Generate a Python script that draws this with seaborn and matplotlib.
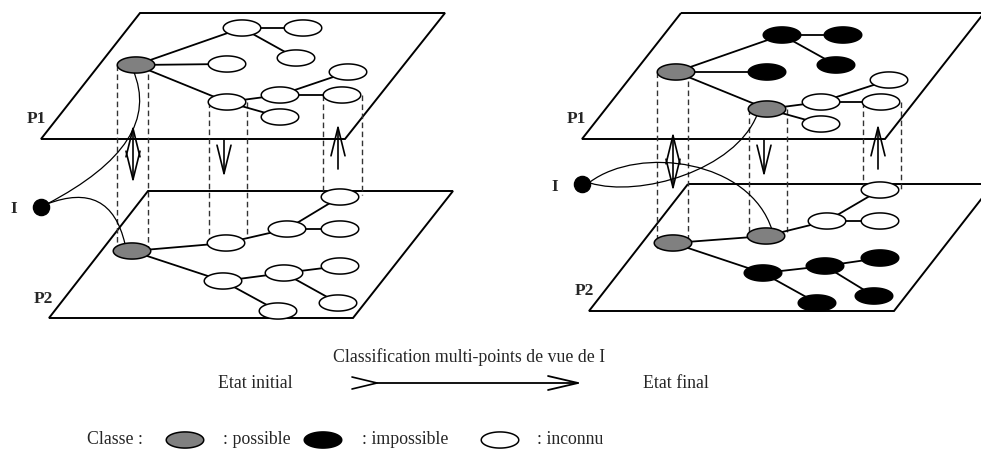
import numpy as np
import pandas as pd
import matplotlib
matplotlib.use("Agg")
import matplotlib.pyplot as plt
from matplotlib.path import Path
from matplotlib.patches import PathPatch, Polygon
import seaborn as sns

sns.set_theme(style="white")
plt.rcParams["font.family"] = ["Liberation Serif", "DejaVu Serif"]

# Planes (corner points in pixels, y pointing down)
left_p1_plane = [(140, 13), (445, 13), (345, 139), (41, 139)]
left_p2_plane = [(148, 191), (453, 191), (353, 318), (49, 318)]
right_p1_plane = [(681, 13), (984, 13), (885, 139), (582, 139)]
right_p2_plane = [(688, 184), (993, 184), (894, 311), (589, 311)]

# Graph nodes: same tree shape on each plane
p1_edges = [(0, 1), (0, 4), (0, 5), (1, 2), (1, 3), (5, 6), (5, 9), (6, 7), (6, 8)]
p2_edges = [(0, 1), (0, 5), (1, 2), (2, 3), (2, 4), (5, 6), (5, 9), (6, 7), (6, 8)]

left_p1_x = [136, 242, 303, 296, 227, 227, 280, 348, 342, 280]
left_p1_y = [65, 28, 28, 58, 64, 102, 95, 72, 95, 117]
left_p1_cls = ["possible"] + ["inconnu"] * 9

left_p2_x = [132, 226, 287, 340, 340, 223, 284, 340, 338, 278]
left_p2_y = [251, 243, 229, 197, 229, 281, 273, 266, 303, 311]
left_p2_cls = ["possible"] + ["inconnu"] * 9

right_p1_x = [676, 782, 843, 836, 767, 767, 821, 889, 881, 821]
right_p1_y = [72, 35, 35, 65, 72, 109, 102, 80, 102, 124]
right_p1_cls = ["possible"] + ["impossible"] * 4 + ["possible"] + ["inconnu"] * 4

right_p2_x = [673, 766, 827, 880, 880, 763, 825, 880, 874, 817]
right_p2_y = [243, 236, 221, 190, 221, 273, 266, 258, 296, 303]
right_p2_cls = ["possible", "possible"] + ["inconnu"] * 3 + ["impossible"] * 5

# Dashed "cylinders" between the planes: (x_left, x_right, y_top, y_bottom)
cylinders = [(117, 148, 65, 248), (209, 247, 102, 238), (323, 362, 95, 195),
             (657, 688, 72, 248), (749, 787, 109, 232), (863, 901, 102, 190)]

# Vertical arrows: (x, y_start, y_end, style)
arrows = [(133, 125, 183, "<->"), (224, 140, 177, "->"), (338, 169, 124, "->"),
          (673, 132, 191, "<->"), (764, 140, 177, "->"), (878, 169, 124, "->")]

# Point I and its links (cubic curves)
i_points_x = [41, 582]
i_points_y = [207, 184]
i_curves = [
    [(47, 204), (125, 163), (154, 119), (133, 70)],
    [(47, 204), (89, 188), (115, 201), (125, 244)],
    [(590, 183), (640, 198), (735, 170), (757, 115)],
    [(590, 182), (640, 145), (750, 160), (772, 230)],
]

plane_labels = ["P1", "P2", "I", "P1", "P2", "I"]
plane_label_x = [36, 43, 14, 576, 584, 555]
plane_label_y = [119, 299, 209, 119, 291, 187]

# Legend
legend_cls = ["possible", "impossible", "inconnu"]
legend_x = [185, 323, 500]
legend_text = [": possible", ": impossible", ": inconnu"]
legend_text_x = [223, 362, 537]

class_colors = {"possible": "#808080", "impossible": "#000000", "inconnu": "#ffffff"}

fig = plt.figure(figsize=(9.81, 4.49), dpi=100)
ax = fig.add_axes([0, 0, 1, 1])

for corners in [left_p1_plane, left_p2_plane, right_p1_plane, right_p2_plane]:
    ax.add_patch(Polygon(corners, closed=True, fill=False, edgecolor="black", lw=1.4, zorder=1))

for xl, xr, yt, yb in cylinders:
    for xc in (xl, xr):
        ax.plot([xc, xc], [yt, yb], color="#333333", lw=1.0, linestyle=(0, (4, 2.5)), zorder=1)

graphs = [(left_p1_x, left_p1_y, left_p1_cls, p1_edges),
          (left_p2_x, left_p2_y, left_p2_cls, p2_edges),
          (right_p1_x, right_p1_y, right_p1_cls, p1_edges),
          (right_p2_x, right_p2_y, right_p2_cls, p2_edges)]

frames = []
for xs, ys, cls, edges in graphs:
    for a, b in edges:
        ax.plot([xs[a], xs[b]], [ys[a], ys[b]], color="black", lw=1.3, zorder=2)
    frames.append(pd.DataFrame({"x": xs, "y": ys, "classe": cls}))
nodes = pd.concat(frames, ignore_index=True)

theta = np.linspace(0, 2 * np.pi, 80)
ellipse = Path(np.column_stack([np.cos(theta), 0.43 * np.sin(theta)]))

sns.scatterplot(data=nodes, x="x", y="y", hue="classe", palette=class_colors,
                marker=ellipse, s=730, edgecolor="black", linewidth=1.1,
                legend=False, zorder=4, ax=ax)

for x, y0, y1, style in arrows:
    ax.annotate("", xy=(x, y1), xytext=(x, y0),
                arrowprops=dict(arrowstyle=style + ",head_length=1.7,head_width=0.42",
                                color="black", lw=1.2, shrinkA=0, shrinkB=0), zorder=3)

for pts in i_curves:
    path = Path(pts, [Path.MOVETO, Path.CURVE4, Path.CURVE4, Path.CURVE4])
    ax.add_patch(PathPatch(path, fill=False, edgecolor="black", lw=0.9, zorder=3))

ax.scatter(i_points_x, i_points_y, s=135, color="black", zorder=5)

for lab, x, y in zip(plane_labels, plane_label_x, plane_label_y):
    ax.text(x, y, lab, fontsize=12.5, fontweight="bold", ha="center", va="center")

# Bottom: state transition
ax.text(469, 357, "Classification multi-points de vue de I", fontsize=12.8, ha="center", va="center")
ax.text(255, 383, "Etat initial", fontsize=12.8, ha="center", va="center")
ax.text(676, 384, "Etat final", fontsize=12.8, ha="center", va="center")
ax.plot([352, 377, 352], [377, 383, 389], color="black", lw=1.2)
ax.annotate("", xy=(582, 383), xytext=(377, 383),
            arrowprops=dict(arrowstyle="->,head_length=1.8,head_width=0.42",
                            color="black", lw=1.3, shrinkA=0, shrinkB=0))

# Legend row
ax.text(87, 440, "Classe :", fontsize=12.8, ha="left", va="center")
legend_df = pd.DataFrame({"x": legend_x, "y": [440] * 3, "classe": legend_cls})
sns.scatterplot(data=legend_df, x="x", y="y", hue="classe", palette=class_colors,
                marker=ellipse, s=730, edgecolor="black", linewidth=1.1,
                legend=False, zorder=4, ax=ax)
for t, x in zip(legend_text, legend_text_x):
    ax.text(x, 440, t, fontsize=12.8, ha="left", va="center")

ax.set_xlim(0, 981)
ax.set_ylim(449, 0)
ax.axis("off")
fig.savefig("out.png", dpi=100, facecolor="white")
